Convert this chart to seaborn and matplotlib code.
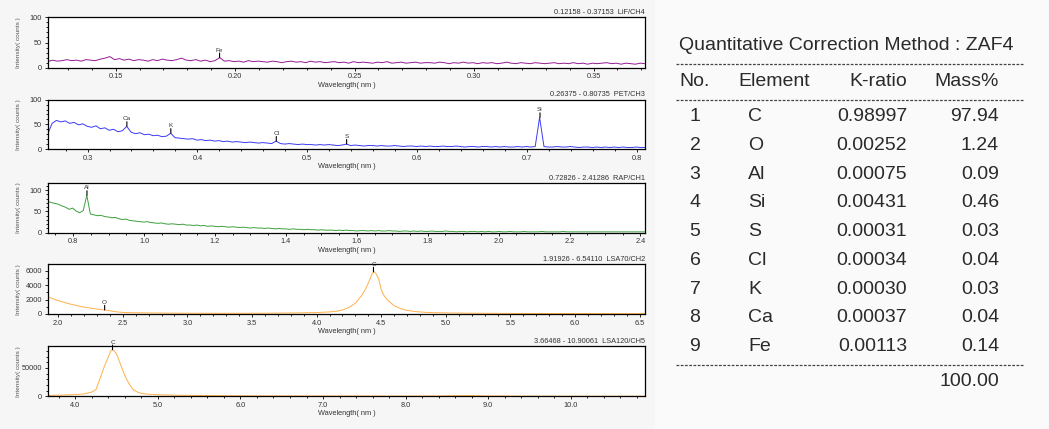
import numpy as np
import pandas as pd
import matplotlib
matplotlib.use("Agg")
import matplotlib.pyplot as plt
from matplotlib.lines import Line2D
from matplotlib.patches import Rectangle
from matplotlib.ticker import MultipleLocator, FormatStrFormatter
import seaborn as sns

# ---------------- spectra ----------------
# LiF/CH4, evenly sampled over its wavelength window
lif_range = (0.12158, 0.37153)
lif_counts = [12, 15, 13, 14, 16, 14, 15, 13, 16, 15,
              14, 17, 19, 22, 16, 18, 15, 17, 14, 16,
              15, 13, 16, 14, 17, 15, 14, 16, 19, 15,
              14, 16, 13, 15, 12, 14, 20, 13, 14, 12,
              13, 11, 14, 12, 13, 12, 11, 13, 12, 10,
              12, 13, 11, 12, 10, 13, 11, 12, 10, 11,
              12, 10, 11, 9, 12, 10, 11, 10, 9, 11,
              10, 12, 9, 10, 11, 9, 10, 11, 9, 10,
              10, 9, 11, 10, 8, 10, 9, 11, 9, 10,
              8, 10, 9, 10, 8, 9, 11, 9, 8, 10,
              9, 8, 10, 9, 8, 9, 10, 8, 9, 8,
              10, 8, 9, 7, 9, 8, 9, 10, 8, 9,
              7, 9, 8, 7, 9, 8]

# PET/CH3
pet_range = (0.26375, 0.80735)
pet_counts = [30, 52, 58, 55, 57, 52, 54, 49, 51, 46,
              44, 47, 41, 43, 38, 40, 35, 37, 46, 34,
              31, 33, 29, 30, 27, 28, 25, 26, 32, 23,
              22, 21, 20, 21, 18, 19, 17, 18, 16, 17,
              15, 16, 14, 15, 14, 13, 14, 13, 12, 13,
              12, 11, 16, 11, 10, 11, 10, 9, 10, 9,
              9, 8, 9, 8, 9, 8, 7, 8, 10, 7,
              8, 7, 6, 7, 7, 6, 7, 6, 6, 7,
              6, 5, 6, 6, 5, 6, 5, 6, 5, 5,
              6, 5, 5, 6, 5, 4, 5, 5, 4, 5,
              5, 4, 5, 4, 5, 4, 4, 5, 4, 5,
              4, 5, 64, 5, 4, 4, 5, 4, 4, 5,
              4, 3, 4, 4, 3, 4, 3, 4, 3, 4,
              3, 4, 3, 3, 4, 3, 3]

# RAP/CH1
rap_range = (0.72826, 2.41286)
rap_counts = [74, 71, 69, 67, 63, 60, 55, 58, 51, 47,
              52, 88, 44, 42, 40, 41, 38, 37, 35, 36,
              33, 31, 32, 29, 28, 27, 26, 25, 26, 24,
              23, 22, 23, 21, 20, 21, 20, 19, 20, 18,
              18, 17, 18, 16, 17, 15, 16, 15, 14, 15,
              14, 13, 14, 13, 12, 13, 12, 11, 12, 11,
              11, 10, 11, 10, 9, 10, 9, 9, 8, 9,
              8, 8, 7, 8, 7, 7, 6, 7, 6, 6,
              6, 5, 6, 5, 6, 5, 5, 4, 5, 5,
              4, 5, 4, 5, 4, 4, 5, 4, 4, 3,
              4, 4, 3, 4, 3, 4, 3, 3, 4, 3,
              3, 3, 4, 3, 3, 2, 3, 3, 2, 3,
              3, 2, 3, 2, 3, 2, 2, 3, 2, 2,
              3, 2, 2, 2, 3, 2, 2, 2, 2, 3,
              2, 2, 2, 2, 2, 3, 2, 2, 2, 2,
              2, 2, 2, 2, 2, 2, 2, 2, 2, 2,
              2, 2, 2, 2, 2, 2, 2, 2, 2]

# LSA70/CH2 (smooth, read at chosen wavelengths)
lsa70_range = (1.91926, 6.54110)
lsa70_wl = [1.92, 2.0, 2.1, 2.2, 2.3, 2.36, 2.4, 2.45, 2.5, 2.6, 2.8, 3.0, 3.2,
            3.4, 3.6, 3.8, 3.9, 4.0, 4.1, 4.15, 4.2, 4.25, 4.3, 4.35, 4.38,
            4.41, 4.43, 4.44, 4.45, 4.46, 4.48, 4.50, 4.52, 4.55, 4.6, 4.65,
            4.7, 4.77, 4.85, 5.0, 5.2, 5.5, 6.0, 6.54]
lsa70_counts = [2400, 1850, 1350, 950, 680, 560, 450, 300, 220, 170, 130, 110,
                100, 100, 110, 140, 170, 200, 290, 380, 550, 900, 1500, 2600,
                3500, 4700, 5600, 5850, 5800, 5600, 4900, 3400, 2600, 1900,
                1150, 750, 500, 330, 220, 150, 110, 80, 60, 55]

# LSA120/CH5
lsa120_range = (3.66468, 10.90061)
lsa120_wl = [3.665, 3.8, 4.0, 4.1, 4.2, 4.25, 4.3, 4.35, 4.4, 4.43, 4.45, 4.47,
             4.5, 4.55, 4.6, 4.65, 4.7, 4.75, 4.8, 4.9, 5.0, 5.2, 5.5, 6.0,
             7.0, 8.0, 8.4, 8.6, 8.8, 9.0, 9.5, 10.0, 10.9]
lsa120_counts = [1500, 2000, 3000, 4000, 7500, 12000, 32000, 52000, 70000,
                 80000, 82000, 80000, 74000, 55000, 36000, 22000, 12000, 7500,
                 5000, 3500, 2800, 2000, 1400, 900, 500, 400, 600, 1200, 1300,
                 600, 300, 200, 150]

# identified peaks: (element, wavelength, counts)
lif_peaks = [("Fe", 0.1935, 20)]
pet_peaks = [("Ca", 0.3358, 46), ("K", 0.3758, 32), ("Cl", 0.4718, 16),
             ("S", 0.5358, 10), ("Si", 0.7118, 64)]
rap_peaks = [("Al", 0.839, 88)]
lsa70_peaks = [("O", 2.36, 560), ("C", 4.44, 5850)]
lsa120_peaks = [("C", 4.45, 82000)]

# ---------------- quantitative table ----------------
tbl_no = ["1", "2", "3", "4", "5", "6", "7", "8", "9"]
tbl_element = ["C", "O", "Al", "Si", "S", "Cl", "K", "Ca", "Fe"]
tbl_kratio = ["0.98997", "0.00252", "0.00075", "0.00431", "0.00031",
              "0.00034", "0.00030", "0.00037", "0.00113"]
tbl_mass = ["97.94", "1.24", "0.09", "0.46", "0.03", "0.04", "0.03", "0.04", "0.14"]
tbl_total = "100.00"

# ---------------- style ----------------
sns.set_style("ticks")
plt.rcParams["font.family"] = ["Liberation Sans", "DejaVu Sans"]

W, H = 1049, 429
fig = plt.figure(figsize=(W / 100, H / 100), dpi=100, facecolor="#f6f6f6")
fig.add_artist(Rectangle((655 / W, 0), 1 - 655 / W, 1, transform=fig.transFigure,
                         facecolor="#fafafa", edgecolor="none", zorder=0))


def rect(top, bottom, left=47.7, right=645):
    return [left / W, 1 - bottom / H, (right - left) / W, (bottom - top) / H]


panels = [
    dict(pos=(17.3, 67.7), rng=lif_range, y=lif_counts, wl=None, color="#931c93",
         ylim=100, yt=50, ym=10, xt=0.05, xm=0.01, fmt="%.2f", peaks=lif_peaks,
         title="0.12158 - 0.37153  LiF/CH4"),
    dict(pos=(99.7, 149), rng=pet_range, y=pet_counts, wl=None, color="#3b3bf5",
         ylim=100, yt=50, ym=10, xt=0.1, xm=0.02, fmt="%.1f", peaks=pet_peaks,
         title="0.26375 - 0.80735  PET/CH3"),
    dict(pos=(183, 232.7), rng=rap_range, y=rap_counts, wl=None, color="#3f9f3f",
         ylim=117, yt=50, ym=10, xt=0.2, xm=0.05, fmt="%.1f", peaks=rap_peaks,
         title="0.72826 - 2.41286  RAP/CH1"),
    dict(pos=(264.3, 314), rng=lsa70_range, y=lsa70_counts, wl=lsa70_wl,
         color="#ffb04a", ylim=6900, yt=2000, ym=1000, xt=0.5, xm=0.1,
         fmt="%.1f", peaks=lsa70_peaks, title="1.91926 - 6.54110  LSA70/CH2"),
    dict(pos=(346.3, 396.3), rng=lsa120_range, y=lsa120_counts, wl=lsa120_wl,
         color="#ffb04a", ylim=88000, yt=50000, ym=10000, xt=1.0, xm=0.2,
         fmt="%.1f", peaks=lsa120_peaks, title="3.66468 - 10.90061  LSA120/CH5"),
]

for p in panels:
    ax = fig.add_axes(rect(*p["pos"]))
    ax.set_facecolor("white")
    if p["wl"] is None:
        wl = np.linspace(p["rng"][0], p["rng"][1], len(p["y"]))
    else:
        wl = p["wl"]
    df = pd.DataFrame({"wl": wl, "counts": p["y"]})
    sns.lineplot(data=df, x="wl", y="counts", ax=ax, color=p["color"], lw=0.7)
    ax.set_xlim(*p["rng"])
    ax.set_ylim(0, p["ylim"])
    ax.xaxis.set_major_locator(MultipleLocator(p["xt"]))
    ax.xaxis.set_minor_locator(MultipleLocator(p["xm"]))
    ax.xaxis.set_major_formatter(FormatStrFormatter(p["fmt"]))
    ax.yaxis.set_major_locator(MultipleLocator(p["yt"]))
    ax.yaxis.set_minor_locator(MultipleLocator(p["ym"]))
    ax.tick_params(which="both", direction="out", labelsize=5.3, colors="#222",
                   labelcolor="#333", pad=1.5, width=0.7)
    ax.tick_params(which="major", length=2.5)
    ax.tick_params(which="minor", length=1.6)
    for s in ax.spines.values():
        s.set_linewidth(0.9)
        s.set_color("black")
    ax.set_xlabel("Wavelength( nm )", fontsize=5.3, color="#333", labelpad=1)
    ax.set_ylabel("Intensity( counts )", fontsize=4.6, color="#555")
    ax.yaxis.set_label_coords(-0.045, 0.5)
    ax.set_title(p["title"], loc="right", fontsize=5.3, color="#333", pad=2.5)
    for name, x, y in p["peaks"]:
        ax.annotate("", xy=(x, y), xytext=(0, 3.3), textcoords="offset points",
                    arrowprops=dict(arrowstyle="-", lw=0.8, color="black",
                                    shrinkA=0, shrinkB=0))
        ax.annotate(name, xy=(x, y), xytext=(0, 3.6), textcoords="offset points",
                    ha="center", va="bottom", fontsize=4.6, color="#333",
                    annotation_clip=False)

# ---------------- table on the right ----------------
tc = "#2a2a2a"
fs = 14


def ftext(x, y, s, ha="left"):
    fig.text(x / W, 1 - y / H, s, ha=ha, va="center", fontsize=fs, color=tc)


def dash(y):
    fig.add_artist(Line2D([676 / W, 1024 / W], [1 - y / H, 1 - y / H],
                          transform=fig.transFigure, color="#444", lw=0.9,
                          ls=(0, (2.2, 1.2))))


ftext(679, 45, "Quantitative Correction Method : ZAF4")
dash(63.5)
ftext(679, 82, "No.")
ftext(738, 82, "Element")
ftext(907, 82, "K-ratio", ha="right")
ftext(999, 82, "Mass%", ha="right")
dash(100)
row_y0, row_dy = 116.7, 28.75
for i in range(len(tbl_no)):
    y = row_y0 + i * row_dy
    ftext(695, y, tbl_no[i], ha="center")
    ftext(748, y, tbl_element[i])
    ftext(907, y, tbl_kratio[i], ha="right")
    ftext(999, y, tbl_mass[i], ha="right")
dash(364.5)
ftext(999, 382, tbl_total, ha="right")

fig.savefig("out.png", dpi=100, facecolor=fig.get_facecolor())
